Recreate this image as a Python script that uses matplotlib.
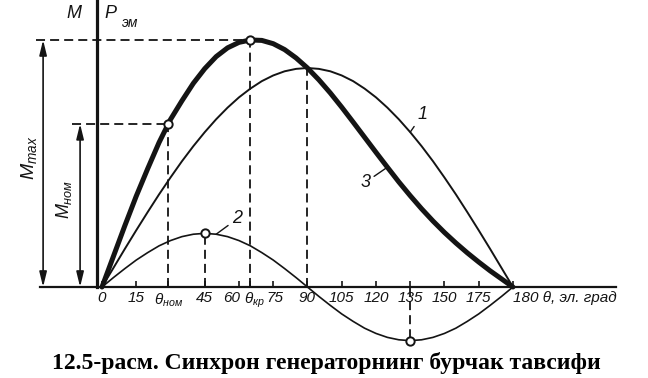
import numpy as np
import matplotlib
matplotlib.use('Agg')
import matplotlib.pyplot as plt
from matplotlib.transforms import ScaledTranslation

# угол, эл. град
theta = [0, 5, 10, 15, 20, 25, 30, 35, 40, 45, 50, 55, 60, 65, 70, 75, 80, 85, 90,
         95, 100, 105, 110, 115, 120, 125, 130, 135, 140, 145, 150, 155, 160, 165,
         170, 175, 180]
# кривая 1
m1 = [0, 0.087, 0.174, 0.259, 0.342, 0.423, 0.500, 0.574, 0.643, 0.707, 0.766,
      0.819, 0.866, 0.906, 0.940, 0.966, 0.985, 0.996, 1.000,
      0.996, 0.985, 0.966, 0.940, 0.906, 0.866, 0.819, 0.766, 0.707, 0.643, 0.574,
      0.500, 0.423, 0.342, 0.259, 0.174, 0.087, 0]
# кривая 2
m2 = [0, 0.043, 0.084, 0.123, 0.157, 0.188, 0.212, 0.230, 0.241, 0.245, 0.241,
      0.230, 0.212, 0.188, 0.157, 0.123, 0.084, 0.043, 0,
      -0.043, -0.084, -0.123, -0.157, -0.188, -0.212, -0.230, -0.241, -0.245,
      -0.241, -0.230, -0.212, -0.188, -0.157, -0.123, -0.084, -0.043, 0]
# кривая 3
m3 = [0, 0.14, 0.28, 0.415, 0.54, 0.66, 0.765, 0.85, 0.93, 0.997, 1.052, 1.092,
      1.117, 1.128, 1.126, 1.111, 1.084, 1.046, 1.00,
      0.946, 0.886, 0.821, 0.753, 0.684, 0.615, 0.547, 0.480, 0.417, 0.357, 0.301,
      0.249, 0.201, 0.156, 0.114, 0.074, 0.037, 0]

theta_nom = 29
m_nom = 0.745

plt.rcParams['font.family'] = ['Liberation Sans', 'DejaVu Sans']
plt.rcParams['mathtext.fontset'] = 'custom'
plt.rcParams['mathtext.it'] = 'Liberation Sans:italic'
plt.rcParams['mathtext.rm'] = 'Liberation Sans'

ink = '#141414'

i3 = int(np.argmax(m3))
i1 = int(np.argmax(m1))
i2 = int(np.argmax(m2))
j2 = int(np.argmin(m2))

tick_pos = [0, 15, theta_nom, 45, 60, theta[i3], 75, 90, 105, 120, 135, 150, 165, 180]
tick_lab = ['0', '15', r'$\theta_{ном}$', '45', '60', r'$\theta_{кр}$', '75', '90',
            '105', '120', '135', '150', '175', '180 θ, эл. град']

fig = plt.figure(figsize=(6.48, 3.78), dpi=100)
ax = fig.add_axes([0, 0, 1, 1])
ax.set_xlim(-44.68, 239.16)
ax.set_ylim(-0.4155, 1.3105)

# оси
for s in ['top', 'right']:
    ax.spines[s].set_visible(False)
ax.spines['bottom'].set_position(('data', 0))
ax.spines['bottom'].set_bounds(-27, 225)
ax.spines['bottom'].set_linewidth(1.6)
ax.spines['bottom'].set_color(ink)
ax.spines['left'].set_position(('data', -2.2))
ax.spines['left'].set_bounds(0, 1.31)
ax.spines['left'].set_linewidth(2.3)
ax.spines['left'].set_color(ink)
ax.set_yticks([])

ax.set_xticks(tick_pos)
ax.set_xticklabels(tick_lab)
ax.tick_params(axis='x', direction='in', length=4, width=1.2, pad=3,
               labelsize=11, colors=ink)
labels = ax.get_xticklabels()
for lbl in labels:
    lbl.set_fontstyle('italic')
labels[-1].set_horizontalalignment('left')
labels[4].set_transform(labels[4].get_transform() + ScaledTranslation(-7/100, 0, fig.dpi_scale_trans))
labels[5].set_transform(labels[5].get_transform() + ScaledTranslation(4/100, 0, fig.dpi_scale_trans))
labels[6].set_transform(labels[6].get_transform() + ScaledTranslation(2/100, 0, fig.dpi_scale_trans))

# кривые
ax.plot(theta, m1, color=ink, lw=1.4)
ax.plot(theta, m2, color=ink, lw=1.2)
ax.plot(theta, m3, color=ink, lw=3.6, solid_capstyle='round', solid_joinstyle='round')

dash = dict(color=ink, lw=1.3, ls=(0, (5, 2.8)))
ax.plot([theta[i3], theta[i3]], [0, m3[i3]], **dash)
ax.plot([theta[i1], theta[i1]], [0, m1[i1]], **dash)
ax.plot([theta[i2], theta[i2]], [0, m2[i2]], **dash)
ax.plot([theta[j2], theta[j2]], [0, m2[j2]], **dash)
ax.plot([theta_nom, theta_nom], [0, m_nom], **dash)
ax.plot([-28.9, theta[i3]], [m3[i3], m3[i3]], **dash)
ax.plot([-13.1, theta_nom], [m_nom, m_nom], **dash)

mk = dict(marker='o', ms=6, mfc='white', mec=ink, mew=1.4, ls='none', zorder=5)
ax.plot([theta[i3]], [m3[i3]], **mk)
ax.plot([theta_nom], [m_nom], **mk)
ax.plot([theta[i2]], [m2[i2]], **mk)
ax.plot([theta[j2]], [m2[j2]], **mk)

# стрелки M_max, M_ном
arr = dict(arrowstyle='<|-|>,head_length=0.9,head_width=0.22', color=ink, lw=1.2,
           shrinkA=0, shrinkB=0, mutation_scale=10)
ax.annotate('', xy=(-25.8, m3[i3]), xytext=(-25.8, 0), arrowprops=arr)
ax.annotate('', xy=(-9.6, m_nom), xytext=(-9.6, 0), arrowprops=arr)

ax.text(-32, 0.589, r'$M_{max}$', rotation=90, ha='center', va='center',
        fontsize=14, color=ink)
ax.text(-16.6, 0.40, r'$M_{ном}$', rotation=90, ha='center', va='center',
        fontsize=13, color=ink)

ax.text(-12.3, 1.251, 'M', ha='center', va='center', fontsize=13,
        style='italic', color=ink)
ax.text(3.5, 1.251, 'P', ha='center', va='center', fontsize=13,
        style='italic', color=ink)
ax.text(12.3, 1.205, 'эм', ha='center', va='center', fontsize=10,
        style='italic', color=ink)

# номера кривых
lead = dict(arrowstyle='-', color=ink, lw=1.0, shrinkA=1, shrinkB=0)
ax.annotate('1', xy=(theta[27], m1[27]), xytext=(9, 13), textcoords='offset points',
            fontsize=13, style='italic', color=ink, ha='center', va='center',
            arrowprops=lead)
ax.annotate('3', xy=(theta[25], m3[25]), xytext=(-16, -11), textcoords='offset points',
            fontsize=13, style='italic', color=ink, ha='center', va='center',
            arrowprops=lead)
ax.annotate('2', xy=(theta[10], m2[10]), xytext=(15, 11), textcoords='offset points',
            fontsize=13, style='italic', color=ink, ha='center', va='center',
            arrowprops=lead)

fig.text(0.503, 1 - 369/378, '12.5-расм. Синхрон генераторнинг бурчак тавсифи',
         ha='center', va='baseline', fontsize=17, fontweight='bold',
         family='Liberation Serif', color='black')

fig.savefig('out.png', dpi=100)
